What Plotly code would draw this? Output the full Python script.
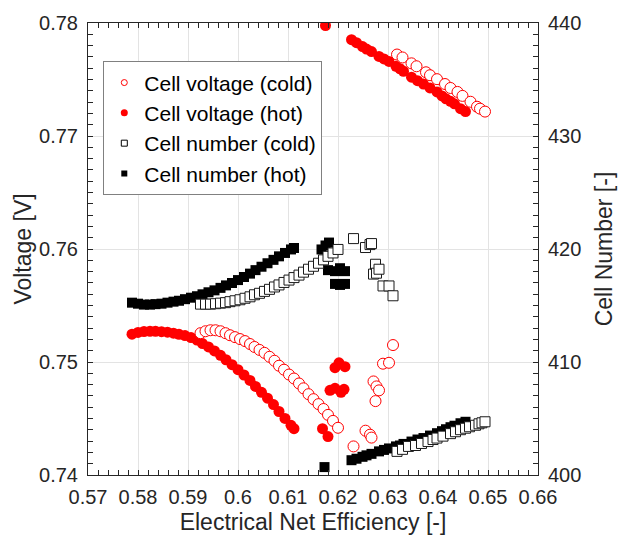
import plotly.graph_objects as go

# ---------------- data ----------------
# Hot operation, left branch (shared efficiency for voltage and cell number)
eff_hot_a = [0.5788, 0.5800, 0.5812, 0.5824, 0.5835, 0.5847, 0.5859, 0.5871, 0.5882, 0.5894,
             0.5906, 0.5918, 0.5929, 0.5941, 0.5953, 0.5965, 0.5976, 0.5988, 0.6000, 0.6012,
             0.6024, 0.6035, 0.6047, 0.6059, 0.6071, 0.6082, 0.6094, 0.6106, 0.6112]
volt_hot_a = [0.75246, 0.75262, 0.75270, 0.75272, 0.75272, 0.75268, 0.75264, 0.75255, 0.75245, 0.75234,
              0.75216, 0.75194, 0.75163, 0.75133, 0.75098, 0.75059, 0.75020, 0.74976, 0.74932, 0.74885,
              0.74837, 0.74784, 0.74732, 0.74680, 0.74623, 0.74562, 0.74501, 0.74440, 0.74410]
cells_hot_a = [415.25, 415.16, 415.08, 415.08, 415.12, 415.16, 415.25, 415.34, 415.42, 415.56,
               415.69, 415.82, 415.99, 416.17, 416.34, 416.56, 416.78, 416.99, 417.25, 417.52,
               417.82, 418.13, 418.43, 418.74, 419.04, 419.35, 419.65, 419.96, 420.09]

# Hot operation, transition region
eff_hot_v_b = [0.6169, 0.6180, 0.6184, 0.6194, 0.6206, 0.6212, 0.6194, 0.6202, 0.6214, 0.6175]
volt_hot_b = [0.74410, 0.74340, 0.74749, 0.74767, 0.74732, 0.74758, 0.74950, 0.74993, 0.74959, 0.77977]
eff_hot_n_b = [0.6167, 0.6175, 0.6182, 0.6180, 0.6194, 0.6204, 0.6214, 0.6194, 0.6204, 0.6214, 0.6173]
cells_hot_b = [419.96, 420.31, 420.57, 418.13, 418.04, 418.30, 418.04, 416.91, 416.82, 416.91, 400.70]

# Hot operation, right branch
eff_hot_c = [0.6227, 0.6237, 0.6249, 0.6257, 0.6267, 0.6282, 0.6292, 0.6302, 0.6316, 0.6324, 0.6331,
             0.6347, 0.6359, 0.6371, 0.6384, 0.6398, 0.6408, 0.6416, 0.6425, 0.6433, 0.6445, 0.6455]
volt_hot_c = [0.77852, 0.77826, 0.77791, 0.77769, 0.77747, 0.77704, 0.77682, 0.77660, 0.77617, 0.77595, 0.77573,
              0.77521, 0.77490, 0.77460, 0.77425, 0.77390, 0.77355, 0.77329, 0.77307, 0.77285, 0.77242, 0.77216]
cells_hot_c = [401.31, 401.44, 401.61, 401.74, 401.87, 402.09, 402.22, 402.35, 402.53, 402.61, 402.75,
               402.96, 403.14, 403.27, 403.49, 403.70, 403.88, 404.05, 404.23, 404.36, 404.58, 404.71]

# Cold operation, left branch
eff_cold_a = [0.5925, 0.5935, 0.5945, 0.5955, 0.5965, 0.5975, 0.5984, 0.5994, 0.6004, 0.6014,
              0.6024, 0.6033, 0.6043, 0.6053, 0.6063, 0.6073, 0.6082, 0.6092, 0.6102, 0.6112,
              0.6122, 0.6131, 0.6141, 0.6151, 0.6161, 0.6171, 0.6180, 0.6190, 0.6200]
volt_cold_a = [0.75255, 0.75272, 0.75281, 0.75281, 0.75272, 0.75255, 0.75237, 0.75220, 0.75203, 0.75185,
               0.75159, 0.75133, 0.75107, 0.75081, 0.75046, 0.75011, 0.74967, 0.74932, 0.74889, 0.74854,
               0.74810, 0.74767, 0.74715, 0.74671, 0.74627, 0.74584, 0.74532, 0.74479, 0.74418]
cells_cold_a = [415.12, 415.12, 415.12, 415.16, 415.21, 415.25, 415.34, 415.42, 415.51, 415.64,
                415.77, 415.95, 416.08, 416.25, 416.43, 416.64, 416.82, 417.04, 417.25, 417.47,
                417.69, 417.95, 418.21, 418.47, 418.74, 419.04, 419.35, 419.65, 419.96]

# Cold operation, transition region
eff_cold_b = [0.6231, 0.6255, 0.6264, 0.6267, 0.6271, 0.6275, 0.6277, 0.6282, 0.6290, 0.6302, 0.6310]
volt_cold_b = [0.74253, 0.74392, 0.74357, 0.74331, 0.74828, 0.74654, 0.74784, 0.74749, 0.74985, 0.74993, 0.75150]
cells_cold_b = [420.92, 420.13, 420.39, 420.48, 417.78, 418.65, 417.86, 418.21, 416.73, 416.73, 415.86]

# Cold operation, right branch
eff_cold_v_c = [0.6318, 0.6329, 0.6347, 0.6357, 0.6376, 0.6384, 0.6398, 0.6414, 0.6425, 0.6439,
                0.6449, 0.6465, 0.6478, 0.6484, 0.6494]
volt_cold_c = [0.77721, 0.77695, 0.77643, 0.77617, 0.77564, 0.77538, 0.77503, 0.77460, 0.77425, 0.77390,
               0.77355, 0.77303, 0.77259, 0.77242, 0.77216]
eff_cold_n_c = [0.6318, 0.6329, 0.6341, 0.6355, 0.6367, 0.6380, 0.6390, 0.6398, 0.6410, 0.6425,
                0.6435, 0.6445, 0.6455, 0.6463, 0.6475, 0.6482, 0.6488, 0.6494]
cells_cold_c = [402.09, 402.27, 402.53, 402.61, 402.79, 402.96, 403.14, 403.27, 403.44, 403.66,
                403.83, 404.01, 404.14, 404.27, 404.40, 404.53, 404.62, 404.71]

# Axis ticks
x_tick_vals = [0.57, 0.58, 0.59, 0.60, 0.61, 0.62, 0.63, 0.64, 0.65, 0.66]
x_tick_text = ["0.57", "0.58", "0.59", "0.6", "0.61", "0.62", "0.63", "0.64", "0.65", "0.66"]
y_tick_vals = [0.74, 0.75, 0.76, 0.77, 0.78]
y_tick_text = ["0.74", "0.75", "0.76", "0.77", "0.78"]
y2_tick_vals = [400, 410, 420, 430, 440]
y2_tick_text = ["400", "410", "420", "430", "440"]

legend_names = ["Cell voltage (cold)", "Cell voltage (hot)", "Cell number (cold)", "Cell number (hot)"]

# ---------------- series ----------------
eff_hot_v = eff_hot_a + eff_hot_v_b + eff_hot_c
volt_hot = volt_hot_a + volt_hot_b + volt_hot_c
eff_hot_n = eff_hot_a + eff_hot_n_b + eff_hot_c
cells_hot = cells_hot_a + cells_hot_b + cells_hot_c

eff_cold_v = eff_cold_a + eff_cold_b + eff_cold_v_c
volt_cold = volt_cold_a + volt_cold_b + volt_cold_c
eff_cold_n = eff_cold_a + eff_cold_b + eff_cold_n_c
cells_cold = cells_cold_a + cells_cold_b + cells_cold_c

RED = "#ff0000"
INK = "#262626"
FONT = "Liberation Sans, Arial, sans-serif"

fig = go.Figure()

# Voltage (left axis)
fig.add_trace(go.Scatter(x=eff_hot_v, y=volt_hot, mode="markers", showlegend=False,
                         marker=dict(symbol="circle", size=11, color=RED, line=dict(width=0))))
fig.add_trace(go.Scatter(x=eff_cold_v, y=volt_cold, mode="markers", showlegend=False,
                         marker=dict(symbol="circle", size=11, color="white",
                                     line=dict(width=1, color=RED))))
# Cell number (right axis)
fig.add_trace(go.Scatter(x=eff_hot_n, y=cells_hot, mode="markers", showlegend=False, yaxis="y2",
                         marker=dict(symbol="square", size=10, color="black", line=dict(width=0))))
fig.add_trace(go.Scatter(x=eff_cold_n, y=cells_cold, mode="markers", showlegend=False, yaxis="y2",
                         marker=dict(symbol="square", size=10, color="white",
                                     line=dict(width=1, color="#1a1a1a"))))

# Legend entries with small symbols
legend_markers = [
    dict(symbol="circle-open", size=6, color=RED, line=dict(width=1)),
    dict(symbol="circle", size=7, color=RED),
    dict(symbol="square-open", size=6, color="black", line=dict(width=1)),
    dict(symbol="square", size=6, color="black"),
]
for name, mk in zip(legend_names, legend_markers):
    fig.add_trace(go.Scatter(x=[None], y=[None], mode="markers", name=name, marker=mk))

axis_common = dict(showline=True, linecolor=INK, linewidth=1, ticks="inside", ticklen=5,
                   tickcolor=INK, tickwidth=1, zeroline=False,
                   tickfont=dict(family=FONT, size=20, color=INK))
title_font = dict(family=FONT, size=23, color=INK)

fig.update_layout(
    width=624, height=542,
    margin=dict(l=88, r=77, t=18, b=65),
    paper_bgcolor="white", plot_bgcolor="white",
    font=dict(family=FONT, color=INK),
    xaxis=dict(range=[0.57, 0.66], tickmode="array", tickvals=x_tick_vals, ticktext=x_tick_text,
               mirror="ticks", showgrid=True, gridcolor="#e3e3e3", gridwidth=1,
               minor=dict(dtick=0.002, tick0=0.57, ticks="inside", ticklen=5, tickcolor=INK, showgrid=False),
               title=dict(text="Electrical Net Efficiency [-]", font=title_font, standoff=6),
               ticklabelstandoff=4,
               **axis_common),
    yaxis=dict(range=[0.74, 0.78], tickmode="array", tickvals=y_tick_vals, ticktext=y_tick_text,
               showgrid=True, gridcolor="#e3e3e3", gridwidth=1,
               minor=dict(dtick=0.001, tick0=0.74, ticks="inside", ticklen=5, tickcolor=INK, showgrid=False),
               title=dict(text="Voltage [V]", font=title_font, standoff=1),
               ticklabelstandoff=5,
               **axis_common),
    yaxis2=dict(range=[400, 440], overlaying="y", side="right", tickmode="array",
                tickvals=y2_tick_vals, ticktext=y2_tick_text, showgrid=False,
                minor=dict(dtick=1, tick0=400, ticks="inside", ticklen=5, tickcolor=INK, showgrid=False),
                title=dict(text="Cell Number [-]", font=title_font, standoff=15),
                ticklabelstandoff=5,
                **axis_common),
    legend=dict(x=0.034, y=0.915, xanchor="left", yanchor="top",
                bgcolor="white", bordercolor="#808080", borderwidth=1,
                font=dict(family=FONT, size=21, color="black")),
)

fig.write_html("out.html")
